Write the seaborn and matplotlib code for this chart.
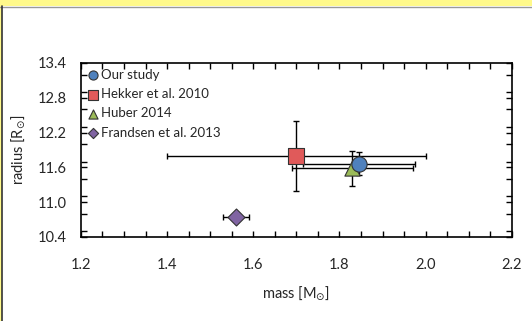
import matplotlib
matplotlib.use("Agg")
import matplotlib.pyplot as plt
from matplotlib.patches import Rectangle
from matplotlib.ticker import MultipleLocator, FormatStrFormatter
import seaborn as sns
import numpy as np
import pandas as pd

# data
studies = ["Our study", "Hekker et al. 2010", "Huber 2014", "Frandsen et al. 2013"]
mass = [1.845, 1.70, 1.83, 1.56]
mass_err = [0.13, 0.30, 0.14, 0.03]
radius = [11.66, 11.80, 11.58, 10.74]
radius_err = [0.20, 0.60, 0.30, 0.0]

colors = ["#4F81BD", "#E05A5A", "#9BBB59", "#8064A2"]
markers = ["o", "s", "^", "D"]
sizes = [120, 130, 120, 75]

df = pd.DataFrame({"study": studies, "mass": mass, "mass_err": mass_err,
                   "radius": radius, "radius_err": radius_err})

sns.set_style("ticks")
plt.rcParams["font.family"] = ["Lato", "DejaVu Sans"]

fig = plt.figure(figsize=(5.32, 3.21), dpi=100)
ax = fig.add_axes([0.152, 0.262, 0.810, 0.542])

# frame decorations around the figure
fig.patches.append(Rectangle((0, 1 - 6 / 321), 1, 6 / 321, transform=fig.transFigure,
                             facecolor="#FFF98A", edgecolor="none", zorder=0))
fig.patches.append(Rectangle((0, 0), 1.5 / 532, 1, transform=fig.transFigure,
                             facecolor="#FFF98A", edgecolor="none", zorder=0))
fig.lines.append(plt.Line2D([0, 1], [1 - 6.5 / 321] * 2, transform=fig.transFigure,
                            color="#999999", lw=1))
fig.lines.append(plt.Line2D([2 / 532] * 2, [0, 1 - 6 / 321], transform=fig.transFigure,
                            color="#333333", lw=1.2))

ax.errorbar(df["mass"], df["radius"], xerr=df["mass_err"], yerr=df["radius_err"],
            fmt="none", ecolor="black", elinewidth=1, capsize=2, capthick=1, zorder=2)

order = [3, 2, 1, 0]
for i in order:
    sub = df.iloc[[i]]
    sns.scatterplot(data=sub, x="mass", y="radius", ax=ax, marker=markers[i],
                    color=colors[i], s=sizes[i], edgecolor="#333333", linewidth=0.8,
                    label=studies[i], zorder=3 + (3 - i))

handles, labels = ax.get_legend_handles_labels()
idx = [labels.index(s) for s in studies]
leg = ax.legend([handles[k] for k in idx], [labels[k] for k in idx], loc="upper left",
                frameon=False, fontsize=9.5, handletextpad=0.05, labelspacing=0.55,
                borderaxespad=0.0, markerscale=0.6, borderpad=0.45, handlelength=1.0)

ax.set_xlim(1.2, 2.2)
ax.set_ylim(10.4, 13.4)
ax.set_yticks(np.round(np.arange(10.4, 13.41, 0.6), 1))
ax.xaxis.set_major_locator(MultipleLocator(0.2))
ax.xaxis.set_minor_locator(MultipleLocator(0.05))
ax.yaxis.set_minor_locator(MultipleLocator(0.3))
ax.xaxis.set_major_formatter(FormatStrFormatter("%.1f"))
ax.yaxis.set_major_formatter(FormatStrFormatter("%.1f"))
ax.tick_params(which="both", direction="in", top=True, right=True, length=4,
               width=1, color="black", labelsize=10.5)
ax.tick_params(axis="y", pad=10)
ax.tick_params(axis="x", pad=15)
for sp in ax.spines.values():
    sp.set_linewidth(1.2)
    sp.set_color("black")

ax.set_xlabel(r"mass [M$_{\odot}$]", fontsize=10.5, labelpad=9)
ax.set_ylabel(r"radius [R$_{\odot}$]", fontsize=10.5, labelpad=8)

fig.savefig("out.png", dpi=100, facecolor="white")
